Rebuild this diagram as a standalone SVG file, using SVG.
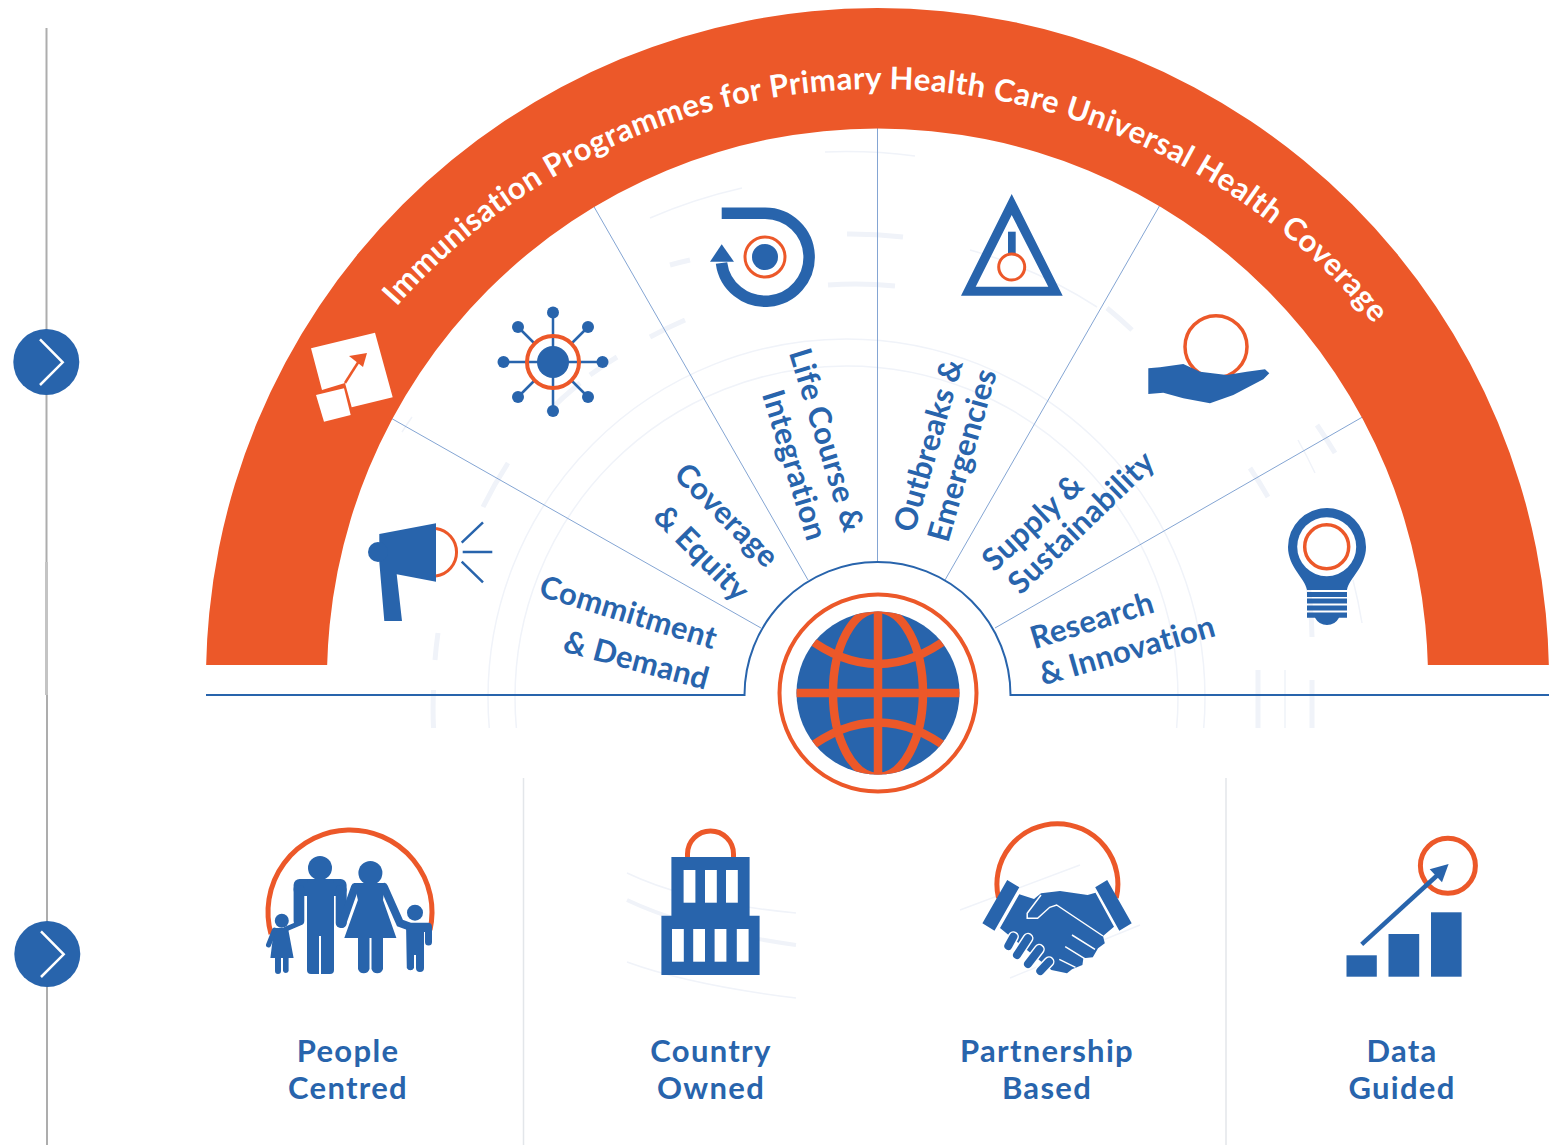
<svg xmlns="http://www.w3.org/2000/svg" width="1563" height="1145" viewBox="0 0 1563 1145">
<style>
.b{fill:#2864ac}.o{fill:#ec5829}.w{fill:#fff}
.ol{fill:none;stroke:#ec5829}.bl{fill:none;stroke:#2864ac}
.wl{fill:none;stroke:#fff}
.fa{fill:none;stroke:#f0f3f9}
.t{font-family:"Lato","Liberation Sans",sans-serif;font-weight:700;fill:#2864ac;font-size:31px;text-anchor:middle;letter-spacing:.3px}
.u{letter-spacing:1.3px}
.r{stroke:#84a5d3;stroke-width:1;fill:none}
</style>
<defs>
<clipPath id="band"><rect x="200" y="0" width="1360" height="665"/></clipPath>
<clipPath id="upper"><rect x="300" y="0" width="1200" height="728"/></clipPath>
<clipPath id="gl"><circle cx="878" cy="693" r="81.5"/></clipPath>
<path id="arcText" d="M237 730A641 641 0 0 1 1519 730"/>
</defs>
<rect width="1563" height="1145" fill="#fff"/>
<g id="faint-background">
<g clip-path="url(#upper)">
<circle class="fa" cx="846.500" cy="697.500" r="358.500" stroke-width="1.500"/>
<circle class="fa" cx="846.500" cy="697.500" r="331.500" stroke-width="1.500"/>
</g>
<g class="fa" stroke-width="5">
<path d="M433.500 728A413.500 413.500 0 0 1 433.500 690M435 660A413.500 413.500 0 0 1 438 633M483 507A413.500 413.500 0 0 1 508 463M547 413A413.500 413.500 0 0 1 580 383M590 375A413.500 413.500 0 0 1 617 357M650 337A413.500 413.500 0 0 1 685 320M828 285A413.500 413.500 0 0 1 895 286"/>
<path d="M670 265A463.500 463.500 0 0 1 690 260M847 234A463.500 463.500 0 0 1 903 237M1107 308A463.500 463.500 0 0 1 1132 330M1250 468A463.500 463.500 0 0 1 1268 497M1307 577A463.500 463.500 0 0 1 1312 637"/>
<path d="M1317 425A545 545 0 0 1 1335 453M1312 680V728M1258 670V728"/>
</g>
<g class="fa" stroke-width="1.500">
<path d="M650 218A520 520 0 0 1 742 188M825 152A545 545 0 0 1 915 156M970 250A463.500 463.500 0 0 1 1097 307M1298 440A520 520 0 0 1 1315 473M1353 580A520 520 0 0 1 1362 623M402 432A520 520 0 0 1 412 417M1285 670V728"/>
<path d="M627 873Q690 903 796 913M627 962Q690 985 796 998M1080 865L960 910M1140 925L1010 978"/>
</g>
<path class="fa" stroke-width="4" d="M627 900Q690 930 796 945"/>
</g>
<g id="rail">
<path d="M46.500 28V695M47 695V1145" stroke="#adadad" stroke-width="2" fill="none"/>
<path d="M46.500 562V695" stroke="#c4c4c4" stroke-width="3" fill="none"/>
</g>
<g id="connectors">
<path class="r" d="M877.500 128V563M389 417L761 628M593 205L808 580M1160 205L945 580M1366 415L995 628"/>
<path class="bl" stroke-width="2" d="M206 695H744.500A133 133 0 0 1 1010.500 695H1549"/>
</g>
<g id="chevron-1"><circle class="b" cx="46.300" cy="362" r="33"/><path class="wl" stroke-width="2.500" d="M40 339.300L62.700 362.300L40 385"/></g>
<g id="chevron-2"><circle class="b" cx="47.300" cy="954" r="33"/><path class="wl" stroke-width="2.500" d="M41 931.300L63.700 954.300L41 977"/></g>
<g id="arch">
<path class="o" clip-path="url(#band)" fill-rule="evenodd" d="M206 679A671.500 671 0 0 1 1549 679L1428 679A550.500 550.500 0 0 0 327 679Z"/>
<text font-family="Lato,'Liberation Sans',sans-serif" font-weight="700" font-size="31" fill="#fff" letter-spacing=".5" text-anchor="middle"><textPath href="#arcText" startOffset="50.57%">Immunisation Programmes for Primary Health Care Universal Health Coverage</textPath></text>
<path class="w" d="M311 348.300L375 332.700L392.700 397.300L351.700 407.300L345 383L322 390Z"/>
<path class="w" d="M316 395L344 388.300L350.700 415L324 421.700Z"/>
<path class="ol" stroke-width="2.500" d="M345 383L359 361"/>
<path class="o" d="M349 356L367 353L363 367Z"/>
</g>
<g id="commitment-demand">
<path class="b" d="M379.300 534L436 523.300V581.700L396.700 574.300L402 621H384.300L379.300 562Z"/><circle class="b" cx="378" cy="552" r="10"/>
<path class="ol" stroke-width="3" d="M436 528.500A24 24 0 0 1 436 576"/>
<path class="bl" stroke-width="2.500" d="M461.700 542.700L483 522.300M462.700 552H492.300M461.700 561.700L483 582.300"/>
<g transform="translate(628.500 612) rotate(17)"><text class="t" y="11">Commitment</text></g>
<g transform="translate(636.500 660) rotate(15)"><text class="t" y="11">&amp; Demand</text></g>
</g>
<g id="coverage-equity">
<path class="bl" stroke-width="2.500" d="M553 312V411M503.500 362H602.500M518 327L588 397M588 327L518 397"/>
<circle cx="553" cy="362" r="26.500" fill="#fff"/>
<path class="bl" stroke-width="2.500" d="M553 335V389M526 362H580"/>
<circle class="b" cx="553" cy="362" r="16"/><circle class="ol" stroke-width="4" cx="553" cy="362" r="26"/>
<g class="b"><circle cx="553" cy="312.500" r="6"/><circle cx="553" cy="411" r="6"/><circle cx="503.500" cy="362" r="6"/><circle cx="602.500" cy="362" r="6"/><circle cx="518" cy="327" r="6"/><circle cx="588" cy="327" r="6"/><circle cx="518" cy="397" r="6"/><circle cx="588" cy="397" r="6"/></g>
<g transform="translate(727 515) rotate(45)"><text class="t" y="11">Coverage</text></g>
<g transform="translate(702 553) rotate(45)"><text class="t" y="11">&amp; Equity</text></g>
</g>
<g id="life-course">
<path class="bl" stroke-width="11.500" d="M721.700 213.300H765A44 44 0 1 1 721.500 263"/>
<path class="b" d="M721.700 244.300L710 261.700H734Z"/>
<circle class="ol" stroke-width="3" cx="765" cy="257" r="20"/><circle class="b" cx="765" cy="257" r="13"/>
<g transform="translate(827 440) rotate(73)"><text class="t" y="11">Life Course &amp;</text></g>
<g transform="translate(795 465) rotate(73)"><text class="t" y="11">Integration</text></g>
</g>
<g id="outbreaks">
<path class="b" fill-rule="evenodd" d="M1011.700 194L1062.700 295.700H961ZM1011.700 215L975.700 286.700H1048.300Z"/>
<rect class="b" x="1008" y="231.700" width="7.700" height="22"/>
<circle cx="1011.700" cy="267" r="13" fill="#fff" stroke="#ec5829" stroke-width="3"/>
<g transform="translate(928 445) rotate(-74)"><text class="t" y="11">Outbreaks &amp;</text></g>
<g transform="translate(962 455) rotate(-74)"><text class="t" y="11">Emergencies</text></g>
</g>
<g id="supply">
<circle class="ol" stroke-width="3.500" cx="1216" cy="346.700" r="31"/>
<path class="b" d="M1148.300 368.300L1160 367.300L1183.300 364L1200 371.700L1226.700 375L1246.700 371.700L1265 369.300L1269.300 373.300L1263.300 379.300L1233.300 395L1210 403.300L1183.300 398.300L1163.300 392.700L1148.300 394Z"/>
<g transform="translate(1032.500 522) rotate(-43)"><text class="t" y="11">Supply &amp;</text></g>
<g transform="translate(1081 522) rotate(-44)"><text class="t" y="11">Sustainability</text></g>
</g>
<g id="research">
<path class="b" d="M1307 590C1305 578 1288 567 1288 547A39 39 0 0 1 1366 547C1366 567 1349 578 1347 590Z"/>
<circle class="w" cx="1326.700" cy="546.700" r="29.500"/><circle class="ol" stroke-width="3.500" cx="1326.700" cy="546.700" r="22"/>
<rect class="b" x="1307" y="592" width="40" height="5"/>
<rect class="b" x="1307" y="598.500" width="40" height="5"/>
<rect class="b" x="1307" y="605.500" width="40" height="5"/>
<path class="b" d="M1307 612.500H1347V617.700H1339Q1335 625 1327 625Q1319 625 1315 617.700H1307Z"/>
<g transform="translate(1092 620) rotate(-17)"><text class="t" y="11">Research</text></g>
<g transform="translate(1127 650) rotate(-16)"><text class="t" y="11">&amp; Innovation</text></g>
</g>
<g id="globe">
<circle class="ol" stroke-width="4" cx="878" cy="693" r="98.500"/>
<circle class="b" cx="878" cy="693" r="81.500"/>
<g clip-path="url(#gl)"><g class="ol" stroke-width="8.500">
<path d="M878 611V775M796 693H960"/><ellipse cx="878" cy="693" rx="45" ry="84"/>
<path d="M805 636Q878 692 951 636M805 751Q878 694 951 751"/></g></g>
</g>
<g id="people-centred">
<path class="ol" stroke-width="5" d="M271 934A82 82 0 1 1 430 930"/>
<circle class="b" cx="320" cy="868" r="12"/><circle class="b" cx="370.400" cy="873" r="12"/>
<rect class="b" x="293.600" y="879" width="53" height="17" rx="6"/>
<rect class="b" x="293.600" y="885" width="10.700" height="40" rx="4"/>
<rect class="b" x="335.700" y="885" width="11" height="43" rx="5"/>
<rect class="b" x="307" y="879" width="27" height="95" rx="4"/>
<path class="wl" stroke-width="2" d="M320 936V975"/>
<path class="b" d="M354 883H385L383 900L396.400 938H383V969A6 6 0 0 1 371.500 969V938H369.500V969A6 6 0 0 1 358 969V938H344.300L357.900 900Z"/>
<path class="bl" stroke-width="8" stroke-linecap="round" d="M355 887L342 924M384 887L400 923L408 926"/>
<circle class="b" cx="415" cy="912.700" r="8"/>
<path class="b" d="M406 922.700H428Q432 922.700 432 927V942A3.500 3.500 0 0 1 425 942V932H424V968A4 4 0 0 1 416 968V955H414V968A4 4 0 0 1 406.800 968Z"/>
<circle class="b" cx="281.800" cy="920.700" r="7"/>
<path class="b" d="M274 928H288L293.600 958H288.600V971A3 3 0 0 1 283 971V958H281V971A3 3 0 0 1 275 971V958H270.400Z"/>
<path class="bl" stroke-width="5" stroke-linecap="round" d="M274.500 930L268.500 945M286 929L300 923"/>
<text class="t u" x="348" y="1062">People</text><text class="t u" x="348" y="1099">Centred</text>
</g>
<g id="country-owned">
<path class="ol" stroke-width="5" d="M687.500 857V854A23 23 0 0 1 733.500 854V857"/>
<path class="b" d="M671.400 857H749.600V915.700H759.600V975H661.400V915.700H671.400Z"/>
<g class="w"><rect x="683.600" y="870" width="11.800" height="32.700"/><rect x="705" y="870" width="11.800" height="32.700"/><rect x="726" y="870" width="11.800" height="32.700"/>
<rect x="672" y="929" width="11.800" height="32.700"/><rect x="693.200" y="929" width="11.800" height="32.700"/><rect x="714.600" y="929" width="11.800" height="32.700"/><rect x="736.800" y="929" width="11.800" height="32.700"/></g>
<text class="t u" x="711" y="1062">Country</text><text class="t u" x="711" y="1099">Owned</text>
</g>
<g id="partnership-based">
<path class="ol" stroke-width="5" d="M998.500 898A60.500 60.500 0 1 1 1116.300 898"/>
<path class="b" d="M1007.200 880L1019.300 887.300L994.500 930.700L982.400 923.300ZM1107.200 880L1095.200 887.300L1119.300 930.700L1131.700 923.300Z"/>
<path class="b" d="M1019.300 894.300L1034 899L1041 893.300L1060 891L1087.600 895L1095.500 892.700L1114 926.700L1103 936L1104.800 943.300L1098 948.300L1092.800 957.300L1083.400 958.300L1082.400 965L1072 969.300L1067 973.300L1051.400 970L1000 928Z"/>
<path class="wl" stroke-width="1.500" d="M1041 895L1027.200 913.300L1027.200 918.300L1037.600 918.300L1049.700 907.300L1056.600 905L1103 936M1072 935L1095 949.300M1065.200 946.700L1085.900 959.300M1059.300 959.300L1075.500 967.300"/>
<path class="wl" stroke-width="11" stroke-linecap="round" d="M1013.400 936.700L1008.300 946M1028 938.300L1017 955M1039.300 949.300L1028 964M1049 961.700L1040.300 971"/>
<path class="bl" stroke-width="8" stroke-linecap="round" d="M1013.400 936.700L1008.300 946M1028 938.300L1017 955M1039.300 949.300L1028 964M1049 961.700L1040.300 971"/>
<text class="t u" x="1047" y="1062">Partnership</text><text class="t u" x="1047" y="1099">Based</text>
</g>
<g id="data-guided">
<rect class="b" x="1346.500" y="955.300" width="30.300" height="21.400"/><rect class="b" x="1388.500" y="934" width="30.700" height="42.700"/><rect class="b" x="1431" y="912.300" width="30.600" height="64.400"/>
<circle class="ol" stroke-width="5" cx="1447.900" cy="865.700" r="27.500"/>
<path class="bl" stroke-width="4.500" d="M1361.700 944.300L1437.600 875"/>
<path class="b" d="M1448.600 864L1429.700 869.300L1442 882.300Z"/>
<text class="t u" x="1402" y="1062">Data</text><text class="t u" x="1402" y="1099">Guided</text>
</g>
<g id="dividers"><path d="M523.500 778V1145M1226 778V1145" stroke="#e3e6ea" stroke-width="1.500" fill="none"/></g>
</svg>
